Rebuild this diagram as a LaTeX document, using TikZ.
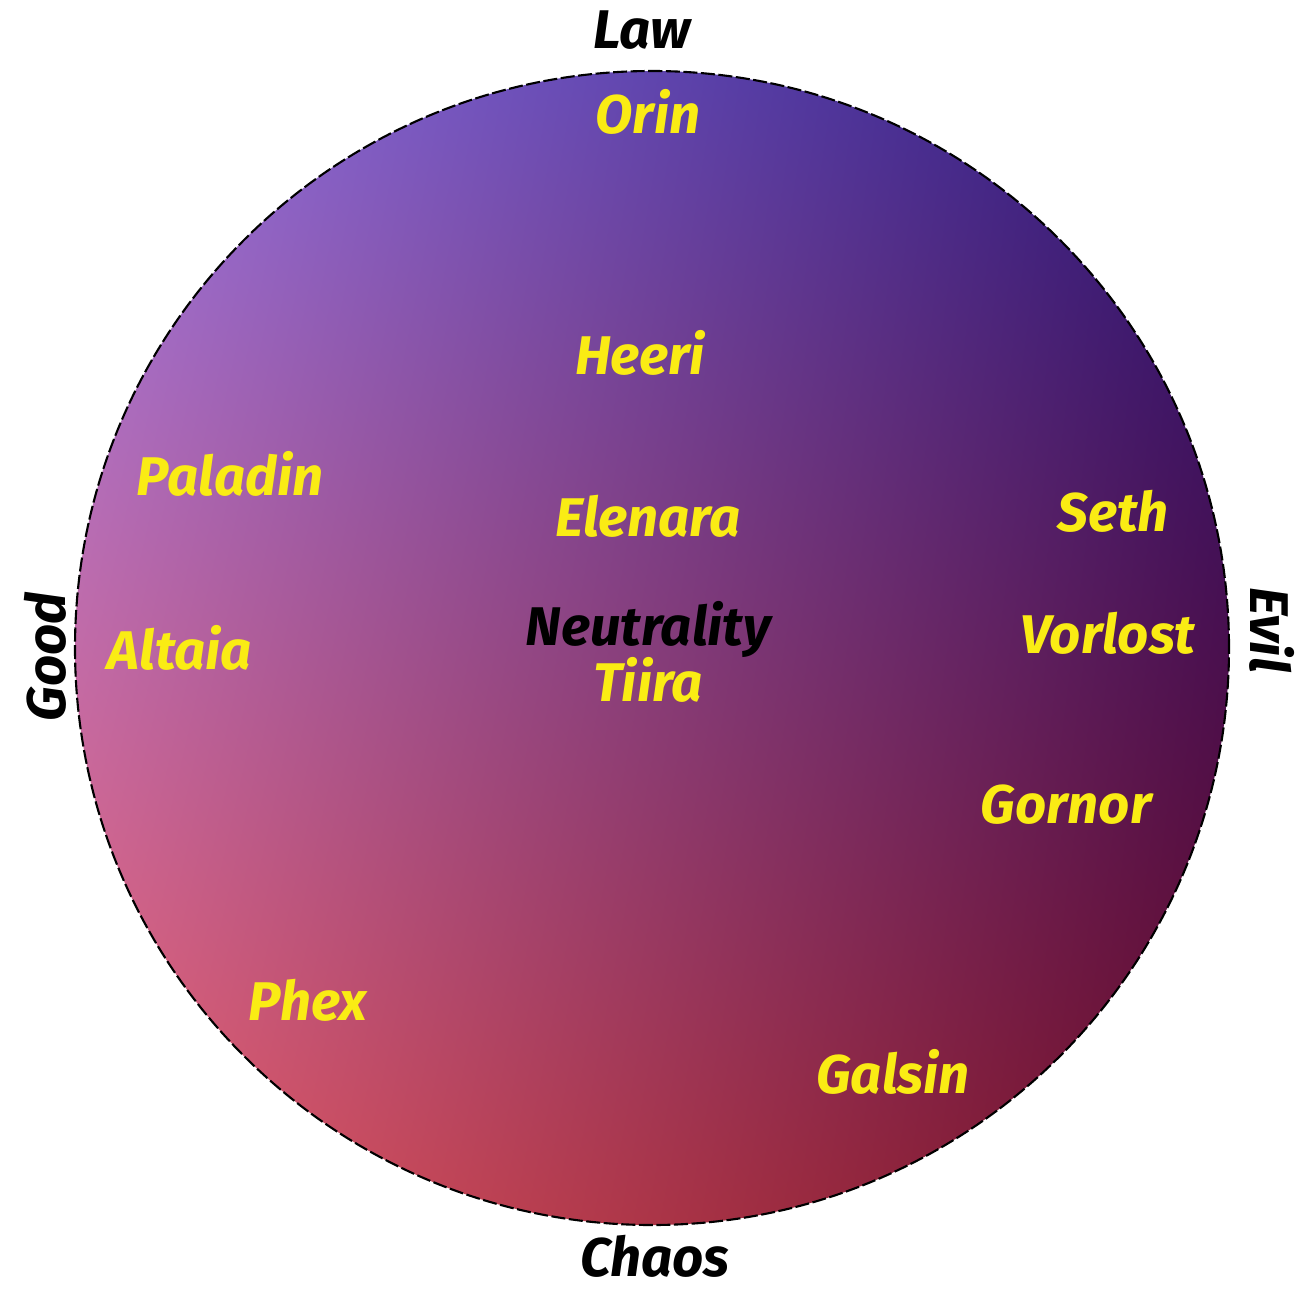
\documentclass[tikz,border=0pt]{standalone}
\usepackage{fontspec}
\setmainfont{Fira Sans}
\usepackage{tikz}
\usetikzlibrary{shadings}
\definecolor{godyellow}{RGB}{250,236,20}
\tikzstyle{god} = [text=godyellow, font=\fontsize{15.5}{18}\selectfont\bfseries\itshape, inner sep=1pt]
\tikzstyle{axis} = [text=black, font=\fontsize{15.5}{18}\selectfont\bfseries\itshape, inner sep=1pt]

\begin{document}
\begin{tikzpicture}
\useasboundingbox (0,0) rectangle (13.02,12.89);
\fill[white] (0,0) rectangle (13.02,12.89);

    % alignment disc
    \shade[shading=bilinear interpolation,
        upper left={rgb,255:red,152;green,118;blue,228},
        upper right={rgb,255:red,38;green,20;blue,120},
        lower left={rgb,255:red,236;green,96;blue,106},
        lower right={rgb,255:red,108;green,10;blue,36}]
        (6.52,6.41) circle (5.77);
    \draw[line width=0.6pt, dash pattern=on 4pt off 1pt] (6.52,6.41) circle (5.77);

\node[axis] (law) at (6.42,12.59) {Law};
    \node[axis] (chaos) at (6.55,0.33) {Chaos};
    \node[axis, rotate=90] (good) at (0.45,6.32) {Good};
    \node[axis, rotate=-90] (evil) at (12.72,6.59) {Evil};
    \node[axis] (neutral) at (6.48,6.60) {Neutrality};

\node[god] (orin) at (6.48,11.77) {Orin};
    \node[god] (heeri) at (6.40,9.36) {Heeri};
    \node[god] (paladin) at (2.30,8.15) {Paladin};
    \node[god] (elenara) at (6.48,7.73) {Elenara};
    \node[god] (seth) at (11.13,7.78) {Seth};
    \node[god] (altaia) at (1.80,6.41) {Altaia};
    \node[god] (vorlost) at (11.08,6.56) {Vorlost};
    \node[god] (tiira) at (6.48,6.09) {Tiira};
    \node[god] (gornor) at (10.66,4.84) {Gornor};
    \node[god] (phex) at (3.08,2.89) {Phex};
    \node[god] (galsin) at (8.93,2.17) {Galsin};
\end{tikzpicture}
\end{document}
